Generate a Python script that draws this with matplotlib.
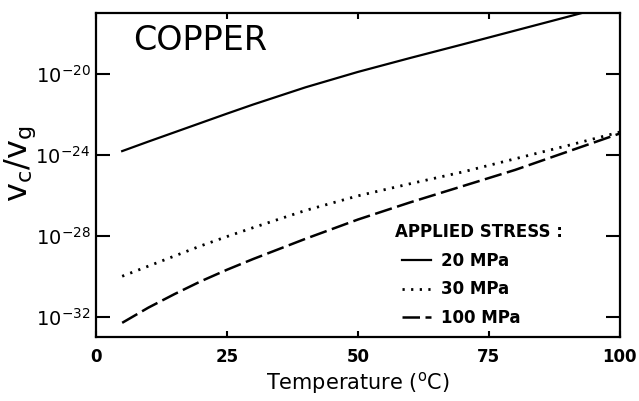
import numpy as np
import matplotlib
matplotlib.use("Agg")
import matplotlib.pyplot as plt
from matplotlib.ticker import FixedLocator, LogFormatterMathtext, NullLocator

# Data (log10 of v_c/v_g)
temperature = [5, 10, 15, 20, 25, 30, 40, 50, 60, 70, 80, 90, 100]
log_20mpa = [-23.82, -23.35, -22.89, -22.43, -21.97, -21.52, -20.67, -19.91, -19.22, -18.55, -17.87, -17.19, -16.5]
log_30mpa = [-30.0, -29.5, -29.0, -28.5, -28.04, -27.6, -26.75, -26.03, -25.43, -24.85, -24.2, -23.55, -22.88]
log_100mpa = [-32.3, -31.55, -30.88, -30.25, -29.68, -29.15, -28.15, -27.2, -26.35, -25.55, -24.75, -23.85, -22.95]
labels = ["20 MPa", "30 MPa", "100 MPa"]
x_ticks = [0, 25, 50, 75, 100]
y_tick_exps = [-32, -28, -24, -20]

plt.rcParams['font.family'] = ['DejaVu Sans']
fig = plt.figure(figsize=(6.39, 4.01), dpi=100)
ax = fig.add_axes([0.1502, 0.1596, 0.8198, 0.808])

t = np.array(temperature)
ax.plot(t, 10.0 ** np.array(log_20mpa), color='black', lw=1.6, ls='-', label=labels[0])
ax.plot(t, 10.0 ** np.array(log_30mpa), color='black', lw=2.0, ls=(0, (0.8, 2.3)), label=labels[1])
ax.plot(t, 10.0 ** np.array(log_100mpa), color='black', lw=1.8, ls=(0, (7, 2.2)), label=labels[2])

ax.set_yscale('log')
ax.set_xlim(0, 100)
ax.set_ylim(1e-33, 1e-17)

ax.yaxis.set_major_locator(FixedLocator([10.0 ** e for e in y_tick_exps]))
ax.yaxis.set_minor_locator(NullLocator())
ax.yaxis.set_major_formatter(LogFormatterMathtext())
ax.set_xticks(x_ticks)
ax.set_xticklabels([str(v) for v in x_ticks], fontsize=12, fontweight='bold')
for lab in ax.get_yticklabels():
    lab.set_fontsize(14)

ax.tick_params(axis='y', direction='in', length=10, width=1.5, right=True, pad=4)
ax.tick_params(axis='x', direction='in', length=4, width=1.5, top=True, pad=8)
for s in ax.spines.values():
    s.set_linewidth(1.6)

ax.set_xlabel('Temperature ($^{\\mathregular{o}}$C)', fontsize=15, labelpad=3)
ax.set_ylabel('$\\mathregular{v_c/v_g}$', fontsize=23)
ax.yaxis.set_label_coords(-0.11, 0.535)

ax.text(0.07, 0.915, 'COPPER', transform=ax.transAxes, fontsize=24,
        va='center', ha='left')

ax.text(0.571, 0.324, 'APPLIED STRESS :', transform=ax.transAxes, fontsize=12,
        fontweight='bold', va='center', ha='left')

leg = ax.legend(loc='upper left', bbox_to_anchor=(0.584, 0.262), frameon=False,
                fontsize=12, handlelength=1.75, handletextpad=0.6,
                labelspacing=0.62, borderpad=0, borderaxespad=0)
for txt in leg.get_texts():
    txt.set_fontweight('bold')

fig.savefig('out.png', dpi=100)
